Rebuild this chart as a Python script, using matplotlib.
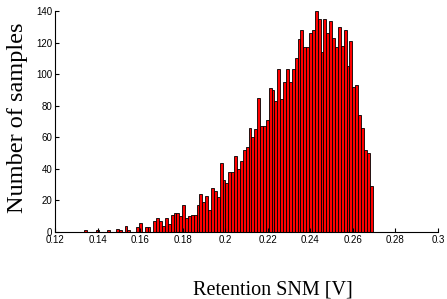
import numpy as np
import matplotlib
matplotlib.use("Agg")
import matplotlib.pyplot as plt

# histogram of retention SNM, 100 bins
snm_lo = 0.1337
snm_hi = 0.2692
counts = [1, 0, 0, 0, 1, 0, 0, 0, 1, 0,
          0, 2, 1, 0, 4, 1, 0, 0, 3, 6,
          0, 3, 3, 0, 7, 9, 7, 4, 9, 5,
          11, 12, 12, 10, 17, 9, 10, 11, 11, 17,
          24, 19, 23, 14, 28, 26, 22, 44, 33, 31,
          38, 38, 48, 40, 45, 52, 54, 66, 60, 65,
          85, 67, 67, 71, 91, 90, 83, 103, 84, 95,
          103, 95, 103, 110, 122, 128, 117, 117, 126, 128,
          140, 135, 114, 135, 126, 134, 123, 117, 130, 118,
          128, 105, 121, 92, 93, 74, 66, 52, 50, 29]
x_ticks = [0.12, 0.14, 0.16, 0.18, 0.2, 0.22, 0.24, 0.26, 0.28, 0.3]
y_ticks = [0, 20, 40, 60, 80, 100, 120, 140]

edges = np.linspace(snm_lo, snm_hi, len(counts) + 1)
width = edges[1] - edges[0]

fig = plt.figure(figsize=(4.47, 2.99), dpi=100)
ax = fig.add_axes([0.123, 0.224, 0.857, 0.739])

ax.bar(edges[:-1], counts, width=width, align="edge",
       color="#ff0000", edgecolor="black", linewidth=0.6)

ax.set_xlim(0.12, 0.3)
ax.set_ylim(0, 140)
ax.set_xticks(x_ticks)
ax.set_xticklabels(["%g" % t for t in x_ticks])
ax.set_yticks(y_ticks)

for s in ["top", "right"]:
    ax.spines[s].set_visible(False)
for s in ["left", "bottom"]:
    ax.spines[s].set_linewidth(0.8)

ax.tick_params(direction="in", length=3, width=0.8, labelsize=7)
ax.tick_params(axis="x", pad=2.5)
ax.tick_params(axis="y", pad=2)
for lab in ax.get_xticklabels() + ax.get_yticklabels():
    lab.set_family(["Liberation Sans", "DejaVu Sans"])

# axis titles placed by hand to sit where the original has them
fig.text(273 / 447, 1 - 290 / 299, "Retention SNM [V]",
         family="Liberation Serif", fontsize=14.5, ha="center", va="center")
fig.text(18 / 447, 1 - 117.5 / 299, "Number of samples",
         family="Liberation Serif", fontsize=17.5, rotation=90,
         ha="center", va="center")

fig.savefig("out.png", dpi=100)
